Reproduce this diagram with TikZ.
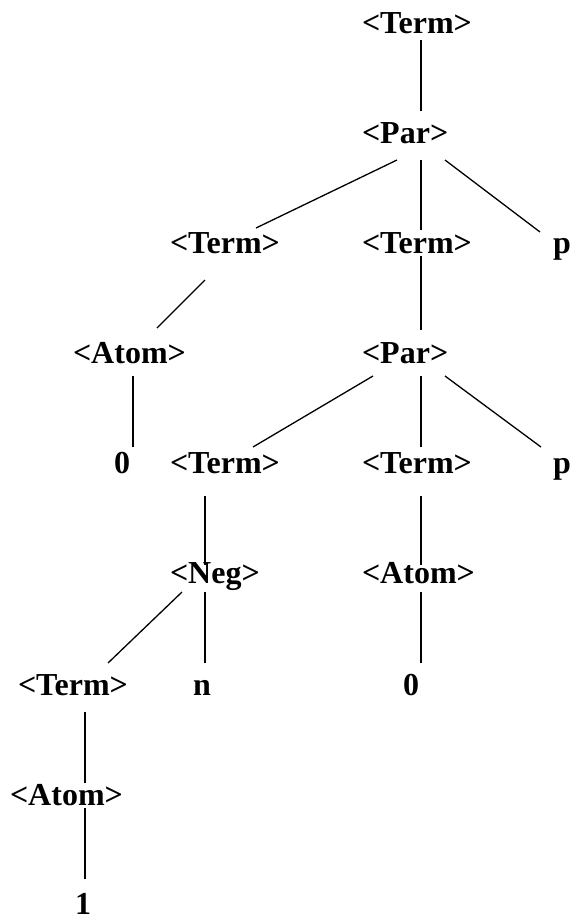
\documentclass[tikz,border=0pt]{standalone}
\usepackage{fontspec}
\setmainfont{Liberation Serif}
\usetikzlibrary{calc}
\tikzset{
  lbl/.style={anchor=base west, inner sep=0pt, outer sep=0pt, font=\fontsize{32}{38}\selectfont\bfseries},
  edge/.style={line width=1.3pt}
}
\begin{document}
\begin{tikzpicture}[x=1pt,y=-1pt]
\useasboundingbox (0,0) rectangle (572,921);
% nodes
\node[lbl] (t1) at (362,33) {<Term>};
\node[lbl] (p2) at (362,143) {<Par>};
\node[lbl] (t3a) at (170,253) {<Term>};
\node[lbl] (t3b) at (362,253) {<Term>};
\node[lbl] (p3) at (553,253) {p};
\node[lbl] (a4) at (73,363) {<Atom>};
\node[lbl] (p4) at (362,363) {<Par>};
\node[lbl] (z5) at (114,473) {0};
\node[lbl] (t5a) at (170,473) {<Term>};
\node[lbl] (t5b) at (362,473) {<Term>};
\node[lbl] (p5) at (553,473) {p};
\node[lbl] (n6) at (170,583) {<Neg>};
\node[lbl] (a6) at (362,583) {<Atom>};
\node[lbl] (t7) at (18,695) {<Term>};
\node[lbl] (n7) at (193,695) {n};
\node[lbl] (z7) at (403,695) {0};
\node[lbl] (a8) at (10,805) {<Atom>};
\node[lbl] (one9) at (75,914) {1};
% edges
\draw[edge] ($(t1.base west)+(59,7)$) -- ($(p2.base west)+(59,-32)$);
\draw[edge] ($(p2.base west)+(35,17)$) -- ($(t3a.base west)+(86,-25)$);
\draw[edge] ($(p2.base west)+(59,17)$) -- ($(t3b.base west)+(59,-23)$);
\draw[edge] ($(p2.base west)+(83,17)$) -- ($(p3.base west)+(-13,-21)$);
\draw[edge] ($(t3a.base west)+(35,27)$) -- ($(a4.base west)+(84,-35)$);
\draw[edge] ($(t3b.base west)+(59,3)$) -- ($(p4.base west)+(59,-33)$);
\draw[edge] ($(a4.base west)+(60,13)$) -- ($(z5.base west)+(19,-26)$);
\draw[edge] ($(p4.base west)+(11,13)$) -- ($(t5a.base west)+(83,-26)$);
\draw[edge] ($(p4.base west)+(59,13)$) -- ($(t5b.base west)+(59,-26)$);
\draw[edge] ($(p4.base west)+(83,13)$) -- ($(p5.base west)+(-12,-26)$);
\draw[edge] ($(t5a.base west)+(35,23)$) -- ($(n6.base west)+(35,-18)$);
\draw[edge] ($(t5b.base west)+(59,23)$) -- ($(a6.base west)+(59,-18)$);
\draw[edge] ($(n6.base west)+(12,9)$) -- ($(t7.base west)+(90,-32)$);
\draw[edge] ($(n6.base west)+(35,9)$) -- ($(n7.base west)+(12,-32)$);
\draw[edge] ($(a6.base west)+(59,9)$) -- ($(z7.base west)+(18,-32)$);
\draw[edge] ($(t7.base west)+(67,17)$) -- ($(a8.base west)+(75,-22)$);
\draw[edge] ($(a8.base west)+(75,3)$) -- ($(one9.base west)+(10,-35)$);
\end{tikzpicture}
\end{document}
